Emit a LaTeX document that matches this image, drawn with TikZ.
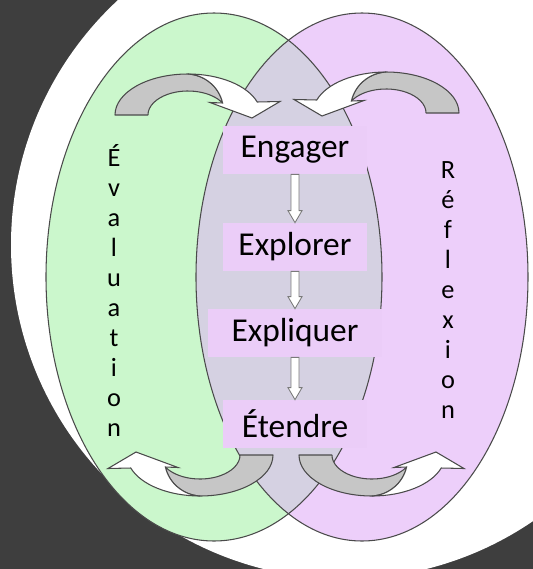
\documentclass[tikz,border=0pt]{standalone}
\usepackage{fontspec}
\setmainfont{Carlito}
\usepackage{xcolor}
\usepackage{tikz}
\usetikzlibrary{calc}

\definecolor{bgdark}{HTML}{3E3E3E}
\definecolor{evalgreen}{HTML}{CBF7CC}
\definecolor{reflpink}{HTML}{EDCFFA}
\definecolor{overlapgray}{HTML}{D5D1E2}
\definecolor{boxpink}{HTML}{EBCDF8}
\definecolor{rimline}{HTML}{4A4A4A}
\definecolor{backgray}{HTML}{C6C6C6}
\definecolor{flowline}{HTML}{7A7A7A}

\begin{document}
\begin{tikzpicture}[x=0.02cm, y=-0.02cm,
  stage/.style={fill=boxpink, minimum width=2.9cm, minimum height=0.96cm,
                inner sep=0pt, font=\fontsize{19}{22}\selectfont},
  vletter/.style={anchor=base, inner sep=0pt, font=\fontsize{15}{17}\selectfont},
  rim/.style={draw=rimline, line width=0.6pt},
  flowarr/.style={draw=flowline, fill=white, line width=0.5pt, to path={
      ($(\tikztostart)+(-4,0)$) -- ($(\tikztotarget)+(-4,-12)$)
      -- ($(\tikztotarget)+(-7,-12)$) -- (\tikztotarget)
      -- ($(\tikztotarget)+(7,-12)$) -- ($(\tikztotarget)+(4,-12)$)
      -- ($(\tikztostart)+(4,0)$) -- cycle}},
  backpart/.style={fill=backgray, draw=rimline, line width=0.6pt, line join=round},
  frontpart/.style={fill=white, draw=rimline, line width=0.6pt},
  loopar/.pic={
    \path[backpart] (-73,0) arc[start angle=180, end angle=270, x radius=73, y radius=41]
      .. controls (17,-40) and (31,-28) .. (34.6,-12)
      arc[start angle=330, end angle=180, x radius=40, y radius=24] -- cycle;
    \path[frontpart] (0,-41) arc[start angle=270, end angle=341.5, x radius=73, y radius=41]
      -- (92,-13.5) -- (64,3) -- (22,-12.5) -- (34.6,-12)
      .. controls (31,-28) and (17,-40) .. (0,-41) -- cycle;
  }
]
\useasboundingbox (0,0) rectangle (533,569);
% backdrop
\fill[bgdark] (0,0) rectangle (533,569);
\fill[white] (345,245) circle[radius=334];
% two ellipses
\fill[evalgreen] (214,277) ellipse[x radius=168, y radius=264];
\fill[reflpink] (362,277) ellipse[x radius=166, y radius=264];
\begin{scope}
  \clip (214,277) ellipse[x radius=168, y radius=264];
  \fill[overlapgray] (362,277) ellipse[x radius=166, y radius=264];
\end{scope}
\draw[rim] (214,277) ellipse[x radius=168, y radius=264];
\draw[rim] (362,277) ellipse[x radius=166, y radius=264];
% curved arrows
\pic at (188,115) {loopar};
\pic[xscale=-1] at (386,113) {loopar};
\pic[rotate=180] at (200,455) {loopar};
\pic[yscale=-1] at (372,455) {loopar};
% stages
\node[stage] (engager) at (295,150) {Engager};
\node[stage] (explorer) at (295,247) {Explorer};
\node[stage, minimum width=3.5cm] (expliquer) at (295,333) {Expliquer};
\node[stage] (etendre) at (295,424) {Étendre};
\draw[flowarr] (engager.south) to (explorer.north);
\draw[flowarr] (explorer.south) to (expliquer.north);
\draw[flowarr] (expliquer.south) to (etendre.north);
% side words
\foreach \ch [count=\k from 0] in {É,v,a,l,u,a,t,i,o,n}
  \node[vletter] (eval\k) at (114,166+30*\k) {\ch};
\foreach \ch [count=\k from 0] in {R,é,f,l,e,x,i,o,n}
  \node[vletter] (refl\k) at (448,178+30*\k) {\ch};
\end{tikzpicture}
\end{document}
